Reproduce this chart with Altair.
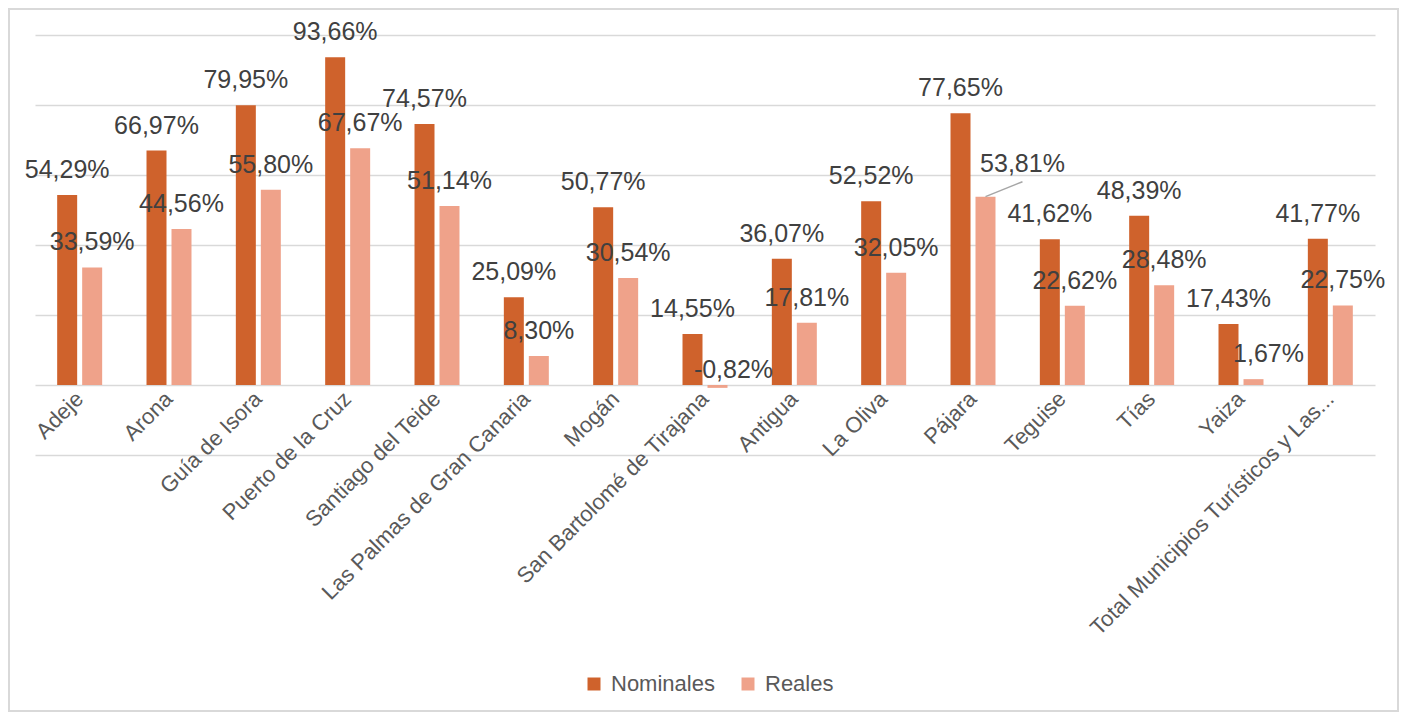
import altair as alt
import pandas as pd

categories = ["Adeje", "Arona", "Guía de Isora", "Puerto de la Cruz", "Santiago del Teide",
              "Las Palmas de Gran Canaria", "Mogán", "San Bartolomé de Tirajana", "Antigua",
              "La Oliva", "Pájara", "Teguise", "Tías", "Yaiza",
              "Total Municipios Turísticos y Las..."]
nominales = [54.29, 66.97, 79.95, 93.66, 74.57, 25.09, 50.77, 14.55, 36.07, 52.52, 77.65, 41.62, 48.39, 17.43, 41.77]
reales = [33.59, 44.56, 55.80, 67.67, 51.14, 8.30, 30.54, -0.82, 17.81, 32.05, 53.81, 22.62, 28.48, 1.67, 22.75]
series = ["Nominales", "Reales"]
colors = ["#CF622C", "#EFA28A"]

rows = []
for c, n, r in zip(categories, nominales, reales):
    for s, v in zip(series, [n, r]):
        rows.append({"cat": c, "serie": s, "v": v,
                     "lab": f"{v:.2f}".replace(".", ",") + "%",
                     "ly": max(v, 0)})
df = pd.DataFrame(rows)

W, H = 1340, 420
xenc = alt.X("cat:N", sort=categories, title=None,
             scale=alt.Scale(paddingInner=0, paddingOuter=0),
             axis=alt.Axis(offset=-70, labelAngle=-45, labelAlign="right", labelBaseline="middle",
                           labelPadding=10, labelFontSize=22, labelColor="#595959",
                           labelFont="Liberation Sans", domain=False, ticks=False, grid=False,
                           labelLimit=500))
xoff = alt.XOffset("serie:N", sort=series,
                   scale=alt.Scale(paddingInner=0.2, paddingOuter=0.887))
yenc = alt.Y("v:Q", title=None,
             scale=alt.Scale(domain=[-20, 100], nice=False, zero=False),
             axis=alt.Axis(values=[-20, 0, 20, 40, 60, 80, 100], labels=False, ticks=False,
                           domain=False, gridColor="#D9D9D9", gridWidth=1.5))

bars = alt.Chart(df).mark_bar().encode(
    x=xenc, xOffset=xoff, y=yenc,
    color=alt.Color("serie:N", sort=series,
                    scale=alt.Scale(domain=series, range=colors),
                    legend=alt.Legend(title=None, orient="none", direction="horizontal",
                                      legendX=548, legendY=638, symbolType="square",
                                      symbolSize=169, symbolStrokeWidth=0, labelFontSize=22,
                                      labelFont="Liberation Sans", labelColor="#595959",
                                      labelOffset=6, columnPadding=22, padding=0))
)

pos_enc = dict(x=alt.X("cat:N", sort=categories),
               xOffset=alt.XOffset("serie:N", sort=series),
               y=alt.Y("ly:Q"), text="lab:N")
txt = dict(font="Liberation Sans", fontSize=25, color="#404040", baseline="alphabetic")

special = "datum.cat == 'Pájara' && datum.serie == 'Reales'"
nudged = "(datum.cat == 'Yaiza' && datum.serie == 'Reales')"
neg = "datum.v < 0"

labels = alt.Chart(df).transform_filter(
    f"!({special}) && !{nudged} && !({neg})"
).mark_text(dy=-17, **txt).encode(**pos_enc)

label_sp = alt.Chart(df).transform_filter(special).mark_text(
    dy=-25, dx=37, **txt).encode(**pos_enc)

label_nudge = alt.Chart(df).transform_filter(nudged).mark_text(
    dy=-17, dx=15, **txt).encode(**pos_enc)

label_neg = alt.Chart(df).transform_filter(neg).mark_text(
    dy=-7, dx=16, **txt).encode(**pos_enc)

leader = alt.Chart(df).transform_filter(special).mark_point(
    shape="M0,0L1,-0.405", size=5476, filled=False, stroke="#A6A6A6", strokeWidth=1.5,
    opacity=1
).encode(x=alt.X("cat:N", sort=categories),
         xOffset=alt.XOffset("serie:N", sort=series),
         y=alt.Y("v:Q"))

frame = alt.Chart(df).mark_rect(fillOpacity=0, stroke="#D9D9D9", strokeWidth=1.5).encode(
    x=alt.value(-26), x2=alt.value(1363), y=alt.value(-26), y2=alt.value(676))

chart = alt.layer(frame, bars, leader, labels, label_sp, label_nudge, label_neg).properties(
    width=W, height=H,
    background="white",
    padding={"left": 27, "top": 27, "right": 24, "bottom": 257},
    autosize=alt.AutoSizeParams(type="none"),
).configure_view(stroke=None)

chart.save("out.html", embed_options={"renderer": "svg", "actions": False})
